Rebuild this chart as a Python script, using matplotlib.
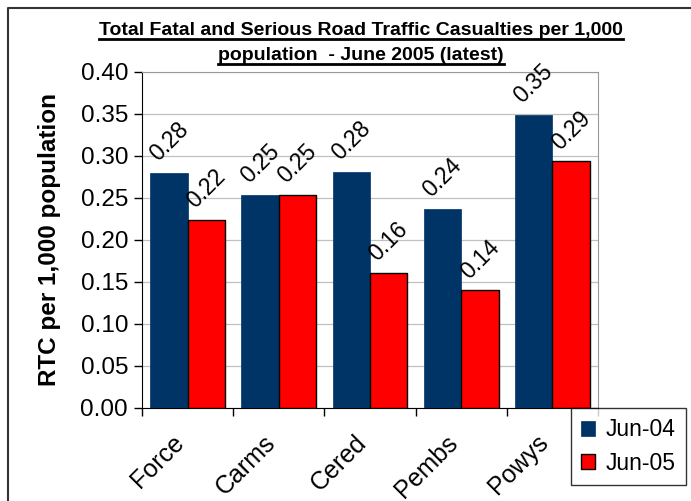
import numpy as np
import matplotlib
matplotlib.use("Agg")
import matplotlib.pyplot as plt
from matplotlib.lines import Line2D
from matplotlib.transforms import ScaledTranslation

plt.rcParams['font.family'] = ['Liberation Sans', 'DejaVu Sans']

# casualties per 1,000 population, by area
areas = ["Force", "Carms", "Cered", "Pembs", "Powys"]
jun04 = [0.280, 0.254, 0.281, 0.237, 0.349]
jun05 = [0.224, 0.254, 0.161, 0.140, 0.294]
series_names = ["Jun-04", "Jun-05"]
yticks = [0.00, 0.05, 0.10, 0.15, 0.20, 0.25, 0.30, 0.35, 0.40]

title1 = "Total Fatal and Serious Road Traffic Casualties per 1,000"
title2 = "population  - June 2005 (latest)"

navy = "#003366"
red = "#ff0000"

fig = plt.figure(figsize=(6.91, 5.01), dpi=100)
W, H = 691, 501
ax = fig.add_axes([142 / W, 1 - 408 / H, (598 - 142) / W, (408 - 72) / H])

x = np.arange(len(areas))
bw = 0.41
b1 = ax.bar(x - bw / 2, jun04, bw, color=navy, edgecolor=navy, linewidth=0.5,
            label=series_names[0], zorder=3)
b2 = ax.bar(x + bw / 2, jun05, bw, color=red, edgecolor="black", linewidth=1.0,
            label=series_names[1], zorder=3)

for bars, vals in ((b1, jun04), (b2, jun05)):
    for r, v in zip(bars, vals):
        ax.annotate("%.2f" % v, (r.get_x() + r.get_width() / 2, v),
                    xytext=(0, 5), textcoords="offset points",
                    ha="center", va="bottom", rotation=45, fontsize=16.5)

ax.set_xlim(-0.5, len(areas) - 0.5)
ax.set_ylim(0, 0.40)
ax.set_yticks(yticks)
ax.set_yticklabels(["%.2f" % t for t in yticks], fontsize=17.5)
ax.yaxis.grid(True, color="#c0c0c0", linewidth=0.9, zorder=0)
ax.set_axisbelow(True)

# category names centred, tick marks on the boundaries
ax.set_xticks(x)
ax.set_xticklabels(areas, rotation=45, ha="right", va="top",
                   rotation_mode="anchor", fontsize=18)
ax.tick_params(axis="x", which="major", length=0, pad=16)
shift = ScaledTranslation(-16 / 100, 0, fig.dpi_scale_trans)
for lbl in ax.get_xticklabels():
    lbl.set_transform(lbl.get_transform() + shift)
ax.set_xticks(np.arange(-0.5, len(areas)), minor=True)
ax.tick_params(axis="x", which="minor", length=6, width=1, color="black")
ax.tick_params(axis="y", length=6, width=1, color="black", pad=4)

for s in ("top", "right"):
    ax.spines[s].set_color("#999999")
for s in ("left", "bottom"):
    ax.spines[s].set_color("black")

ax.set_ylabel("RTC per 1,000 population", fontsize=17.5, fontweight="bold",
              labelpad=14)

leg = fig.legend(handles=[b1, b2], loc="upper left",
                 bbox_to_anchor=(571 / W, 1 - 408 / H), borderaxespad=0,
                 fontsize=16.5, frameon=True, fancybox=False, handlelength=0.6,
                 handleheight=0.6, handletextpad=0.45, labelspacing=0.45,
                 borderpad=0.45)
leg.get_frame().set_edgecolor("black")
leg.get_frame().set_linewidth(1.0)

# title, two lines, underlined
t1 = fig.text(361 / W, 1 - 35 / H, title1, ha="center", va="baseline",
              fontsize=14, fontweight="bold")
t2 = fig.text(361 / W, 1 - 60 / H, title2, ha="center", va="baseline",
              fontsize=14, fontweight="bold")
fig.canvas.draw()
r = fig.canvas.get_renderer()
for t, yb in ((t1, 35), (t2, 60)):
    bb = t.get_window_extent(renderer=r)
    yy = 1 - (yb + 4) / H
    fig.add_artist(Line2D([bb.x0 / W, bb.x1 / W], [yy, yy], color="black",
                          linewidth=2.0, transform=fig.transFigure))

# outer chart border
fig.add_artist(Line2D([8 / W, 8 / W, 1.0], [0.0, 1 - 8 / H, 1 - 8 / H],
                      color="#333333", linewidth=1.5, transform=fig.transFigure))

fig.savefig("out.png", dpi=100)
